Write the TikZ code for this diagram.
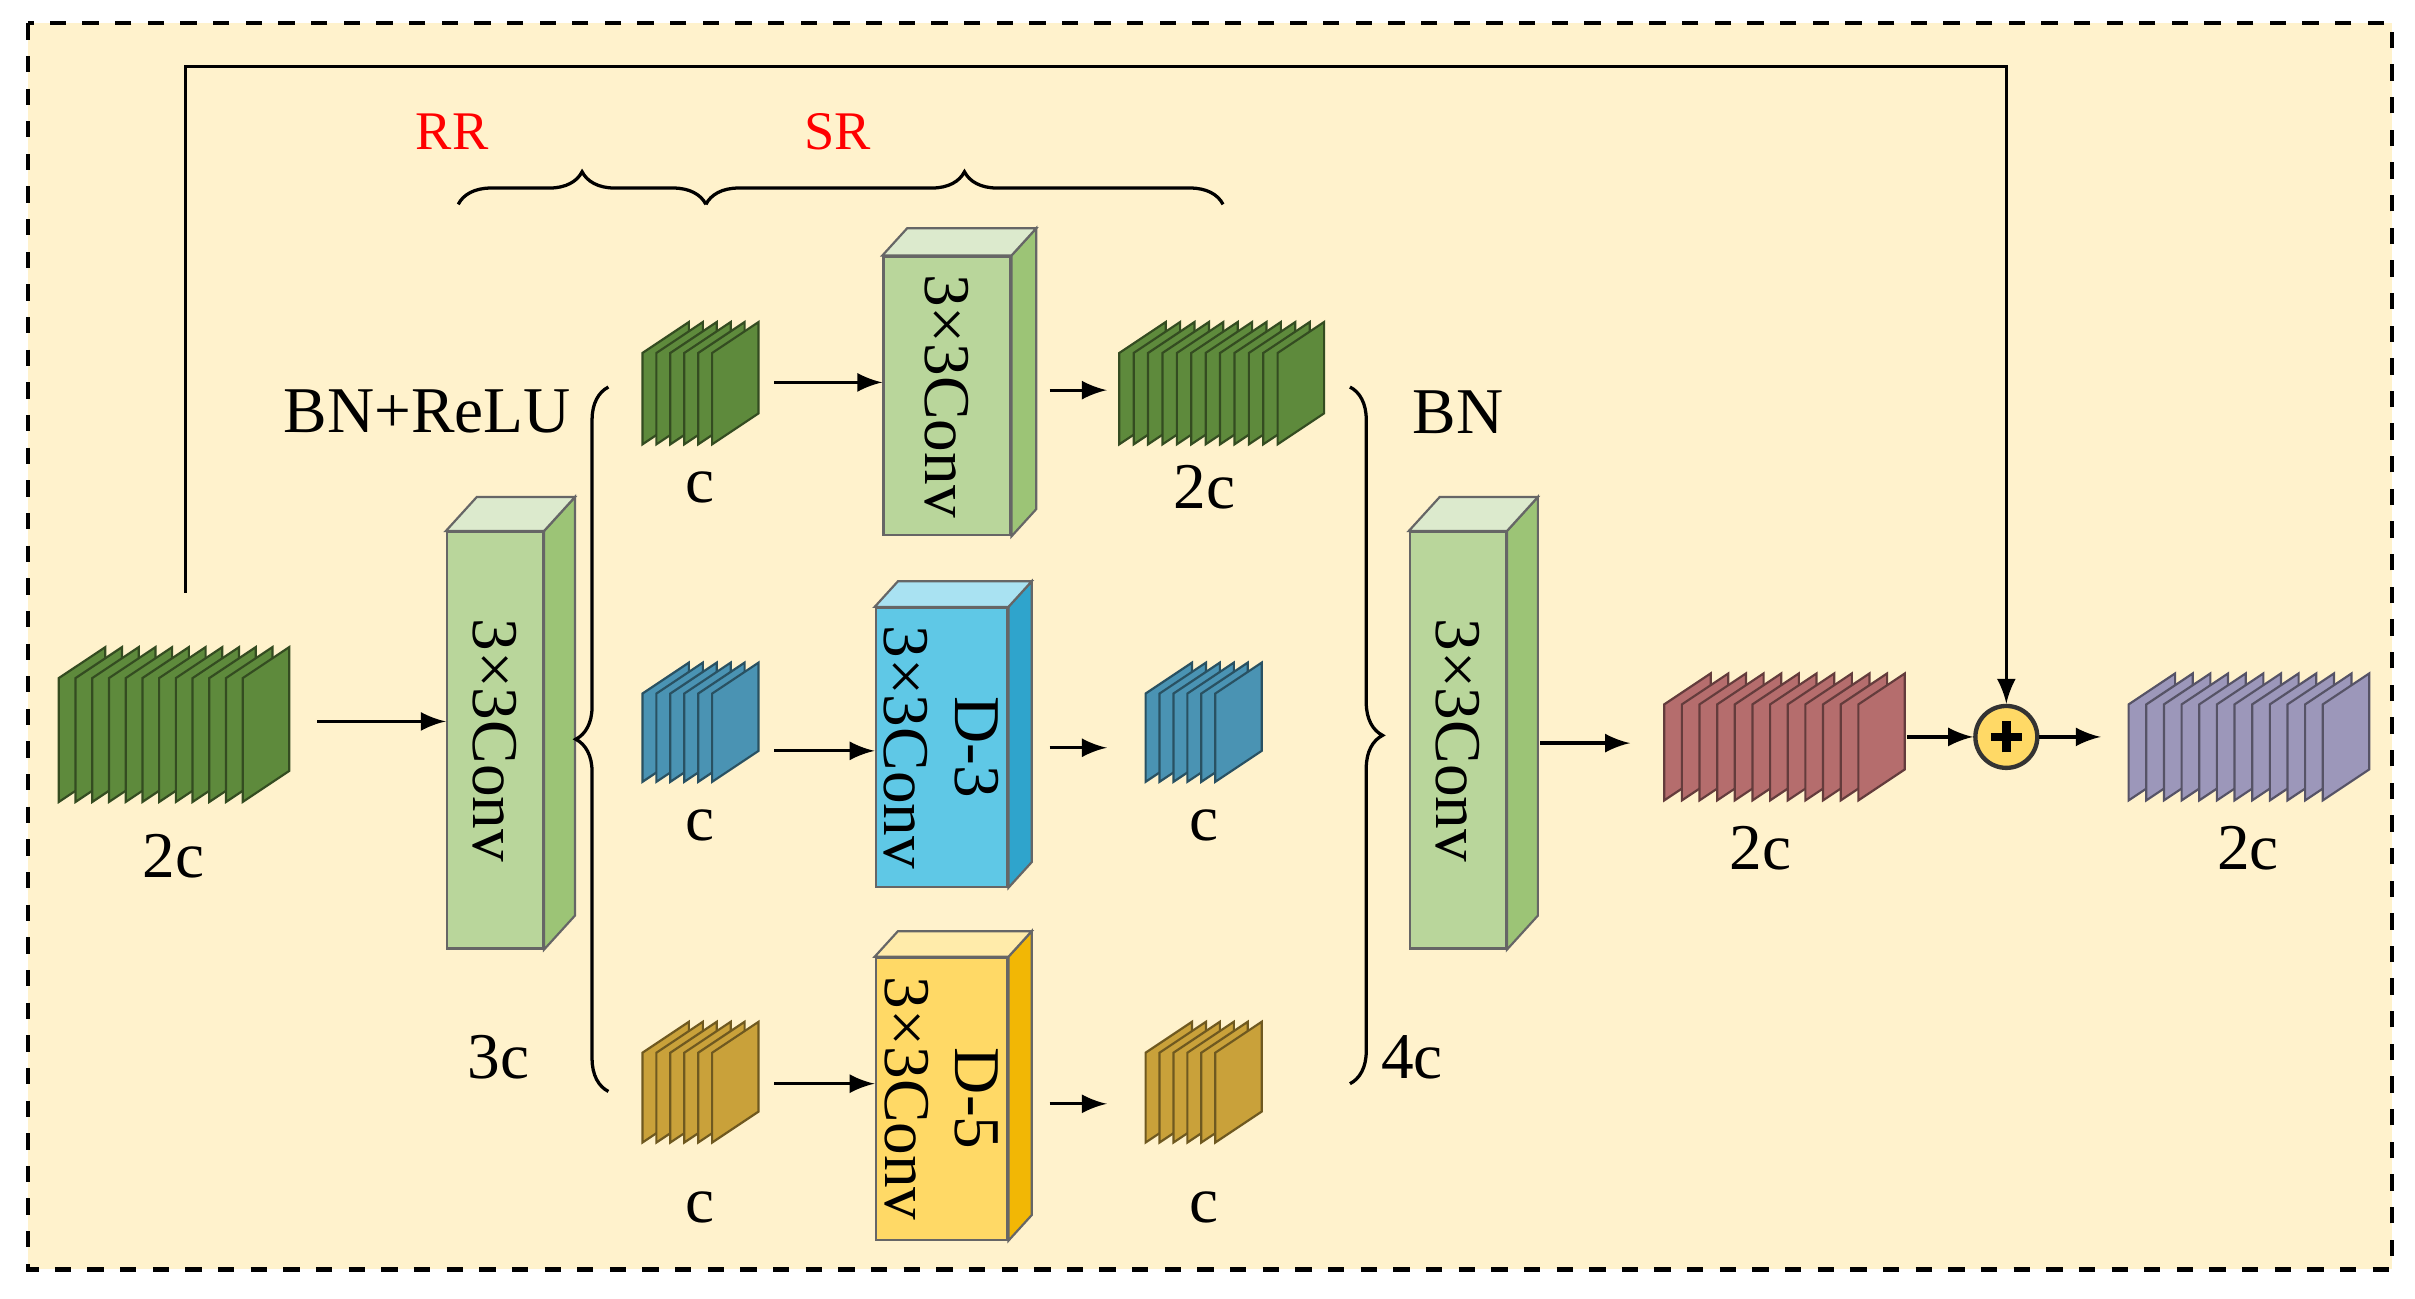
\documentclass[tikz,border=0pt]{standalone}
\usepackage{fontspec}
\setmainfont{Liberation Serif}
\usetikzlibrary{arrows, positioning, decorations.pathreplacing}
\definecolor{MyCream}{HTML}{FFF2CC}
\definecolor{PlateGreen}{HTML}{5E8A3C}
\definecolor{PlateBlue}{HTML}{4A93B3}
\definecolor{PlateGold}{HTML}{C9A13A}
\definecolor{PlateRed}{HTML}{B56D6D}
\definecolor{PlatePurple}{HTML}{9C97BA}
\definecolor{BoxGreen}{HTML}{B9D69B}
\definecolor{SideGreen}{HTML}{9CC476}
\definecolor{TopGreen}{HTML}{DCEACD}
\definecolor{BoxBlue}{HTML}{5FC8E6}
\definecolor{SideBlue}{HTML}{2FA4CC}
\definecolor{TopBlue}{HTML}{A9E2F2}
\definecolor{BoxYellow}{HTML}{FFD966}
\definecolor{SideYellow}{HTML}{F2B705}
\definecolor{TopYellow}{HTML}{FFEBAA}

% stack of feature maps: name, x left, y bottom, plates, spacing, height, colour
\newcommand{\fmstack}[7]{
  \foreach \i in {1,...,#4}{
    \draw[fill=#7, draw=#7!55!black, line width=0.4pt]
      ({#2+(\i-1)*#5},#3) -- ++(0,#6) -- ++(0.3,0.2) -- ++(0,-#6) -- cycle;
  }
  \coordinate (#1) at ({#2+((#4-1)*#5+0.3)/2},{#3+(#6+0.2)/2});
}
% conv block: name, x left, y top (front), width, height, depth, front, side, top, text
\newcommand{\convblock}[9]{
  \node[block, minimum width=#4cm, minimum height=#5cm, fill=#7, anchor=north west] (#1) at (#2,#3) {};
  \draw[fill=#8, draw=black!60] (#1.north east) -- ++(#6,{#6*1.1}) -- ([shift={(#6,{#6*1.1})}]#1.south east) -- (#1.south east) -- cycle;
  \draw[fill=#9, draw=black!60] (#1.north west) -- ++(#6,{#6*1.1}) -- ([shift={(#6,{#6*1.1})}]#1.north east) -- (#1.north east) -- cycle;
}

\begin{document}
\begin{tikzpicture}[
    every node/.style={font=\fontsize{12}{14}\selectfont},
    block/.style={draw=black!60, rectangle, inner sep=0pt},
    lbl/.style={inner sep=1pt},
    conv/.style={rotate=-90, align=center, inner sep=0pt, font=\fontsize{12}{13}\selectfont},
    red lbl/.style={text=red, font=\fontsize{10}{12}\selectfont},
    arr/.style={-latex, line width=0.6pt},
    brc/.style={decorate, decoration={brace, amplitude=6pt}, line width=0.6pt}
  ]
  \useasboundingbox (0,0) rectangle (15.6,-8.39);
  \draw[dashed, line width=0.8pt, fill=MyCream] (0.18,-0.15) rectangle (15.45,-8.2);

  % input and first conv
  \fmstack{in}{0.38}{-5.18}{12}{0.108}{0.8}{PlateGreen}
  \node[lbl] (lIn) at (1.12,-5.53) {2c};
  \convblock{c1}{2.88}{-3.43}{0.62}{2.69}{0.2}{BoxGreen}{SideGreen}{TopGreen}
  \node[conv] at (c1) {3×3Conv};
  \node[lbl] (l3c) at (3.22,-6.83) {3c};
  \node[lbl] (lBnr) at (2.76,-2.66) {BN+ReLU};

  % three branches
  \fmstack{a1}{4.15}{-2.87}{6}{0.09}{0.59}{PlateGreen}
  \fmstack{b1}{4.15}{-5.05}{6}{0.09}{0.57}{PlateBlue}
  \fmstack{g1}{4.15}{-7.38}{6}{0.09}{0.58}{PlateGold}
  \node[lbl] at (4.52,-3.15) {c};
  \node[lbl] at (4.52,-5.33) {c};
  \node[lbl] at (4.52,-7.8) {c};

  \convblock{c2}{5.70}{-1.65}{0.82}{1.80}{0.16}{BoxGreen}{SideGreen}{TopGreen}
  \node[conv] at (c2) {3×3Conv};
  \convblock{c3}{5.65}{-3.92}{0.85}{1.80}{0.15}{BoxBlue}{SideBlue}{TopBlue}
  \node[conv] at (c3) {D-3\\3×3Conv};
  \convblock{c4}{5.65}{-6.18}{0.85}{1.82}{0.15}{BoxYellow}{SideYellow}{TopYellow}
  \node[conv] at (c4) {D-5\\3×3Conv};

  \fmstack{a2}{7.23}{-2.87}{12}{0.093}{0.59}{PlateGreen}
  \fmstack{b2}{7.40}{-5.05}{6}{0.09}{0.57}{PlateBlue}
  \fmstack{g2}{7.40}{-7.38}{6}{0.09}{0.58}{PlateGold}
  \node[lbl] at (7.78,-3.15) {2c};
  \node[lbl] at (7.78,-5.33) {c};
  \node[lbl] at (7.78,-7.8) {c};

  \draw[arr] (5.0,-2.47) -- (c2.west|-0,-2.47);
  \draw[arr] (5.0,-4.85) -- (c3.west|-0,-4.85);
  \draw[arr] (5.0,-7.0) -- (c4.west|-0,-7.0);
  \draw[arr] (6.78,-2.52) -- (7.15,-2.52);
  \draw[arr] (6.78,-4.83) -- (7.15,-4.83);
  \draw[arr] (6.78,-7.13) -- (7.15,-7.13);

  % braces
  \draw[brc] (3.93,-7.05) -- (3.93,-2.5);
  \draw[brc] (8.72,-2.5) -- (8.72,-7.0);
  \draw[brc] (2.96,-1.32) -- (4.56,-1.32);
  \draw[brc] (4.56,-1.32) -- (7.90,-1.32);
  \node[red lbl] at (2.92,-0.85) {RR};
  \node[red lbl] at (5.41,-0.85) {SR};
  \node[lbl] at (9.42,-2.66) {BN};
  \node[lbl] at (9.12,-6.83) {4c};

  % merge conv and output
  \convblock{c5}{9.10}{-3.43}{0.62}{2.69}{0.2}{BoxGreen}{SideGreen}{TopGreen}
  \node[conv] at (c5) {3×3Conv};
  \fmstack{mid}{10.75}{-5.17}{12}{0.114}{0.62}{PlateRed}
  \node[lbl] at (11.37,-5.48) {2c};
  \node[circle, draw=black!80, line width=0.8pt, fill=BoxYellow, minimum size=0.4cm, inner sep=0pt] (add) at (12.96,-4.76) {};
  \draw[line width=1.6pt] ([xshift=-0.1cm]add.center) -- ([xshift=0.1cm]add.center)
    ([yshift=-0.1cm]add.center) -- ([yshift=0.1cm]add.center);
  \fmstack{out}{13.75}{-5.17}{12}{0.114}{0.62}{PlatePurple}
  \node[lbl] at (14.52,-5.48) {2c};

  \draw[arr] (2.05,-4.66) -- (c1.west|-0,-4.66);
  \draw[arr] (9.95,-4.8) -- (10.53,-4.8);
  \draw[arr] (12.32,-4.76) -- (add.west);
  \draw[arr] (add.east) -- (13.57,-4.76);
  \draw[arr] (1.2,-3.83) -- (1.2,-0.43) -- (12.96,-0.43) -- (add.north);
\end{tikzpicture}
\end{document}
